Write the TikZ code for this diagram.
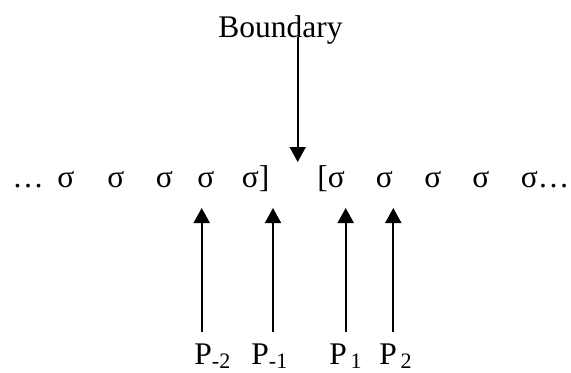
\documentclass[tikz,border=0pt]{standalone}
\usepackage{fontspec}
\setmainfont{Liberation Serif}
\usepackage{tikz}
\usetikzlibrary{arrows.meta}

\begin{document}
\begin{tikzpicture}[
  x=0.5pt, y=-0.5pt,
  syl/.style={anchor=base west, inner sep=0pt, font=\fontsize{15.75}{18}\selectfont},
  plabel/.style={anchor=base west, inner sep=0pt, font=\fontsize{15.75}{18}\selectfont},
  up/.style={-{Triangle[length=7.5pt, width=8pt]}, line width=1pt, shorten <=5.5pt},
  down/.style={-{Triangle[length=7.5pt, width=8pt]}, line width=1pt},
]
  \useasboundingbox (0,0) rectangle (571,372);

  % Boundary label and its arrow
  \node[syl, anchor=base] (bnd) at (280.5,37) {Boundary};
  \coordinate (btip) at (297.7,162);
  \draw[down] (btip |- bnd.base) -- (btip);

  % the row of syllables
  \node[syl] (dots) at (12,187) {…};
  \foreach \x/\n in {57/s1, 107/s2, 155.5/s3, 197/s4, 375.5/s7, 424/s8, 472/s9} {
    \node[syl] (\n) at (\x,187) {σ};
  }
  \node[syl] (s5) at (241.5,187) {σ]};
  \node[syl] (s6) at (317,187) {[σ};
  \node[syl] (s10) at (520.5,187) {σ…};

  % positions
  \node[plabel] (pm2) at (194,364) {P\textsubscript{-2}};
  \node[plabel] (pm1) at (251,364) {P\textsubscript{-1}};
  \node[plabel] (p1) at (329,364) {P\textsubscript{\,1}};
  \node[plabel] (p2) at (379,364) {P\textsubscript{\,2}};

  \coordinate (tm2) at (201.7,208);
  \coordinate (tm1) at (273,208);
  \coordinate (t1) at (345.7,208);
  \coordinate (t2) at (393.3,208);

  \foreach \p/\t in {pm2/tm2, pm1/tm1, p1/t1, p2/t2} {
    \draw[up] (\t |- \p.north) -- (\t);
  }
\end{tikzpicture}
\end{document}
